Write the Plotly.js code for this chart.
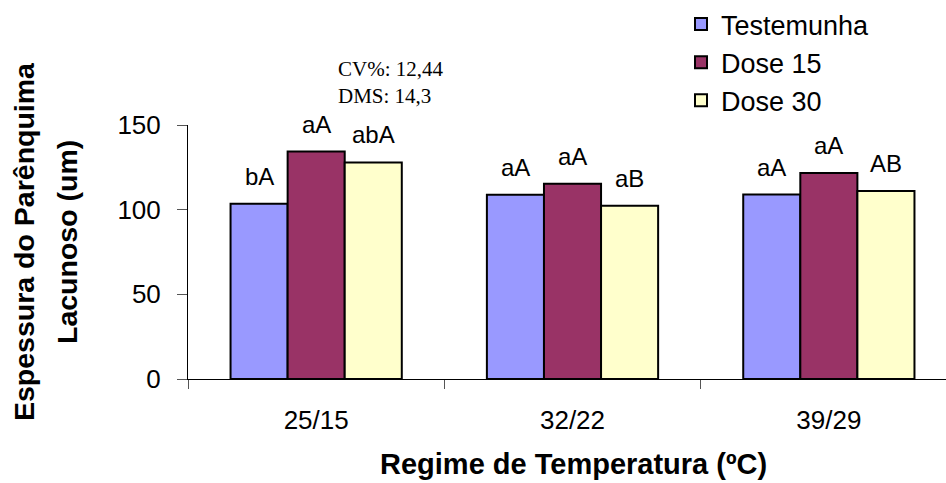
<!DOCTYPE html>
<html>
<head>
<meta charset="utf-8">
<script src="https://cdn.plot.ly/plotly-3.0.1.min.js"></script>
<style>html,body{margin:0;padding:0;background:#fff;}#chart{width:946px;height:483px;}</style>
</head>
<body>
<div id="chart"></div>
<script>
// ---- data ----
const categories = ['25/15', '32/22', '39/29'];
const seriesNames = ['Testemunha', 'Dose 15', 'Dose 30'];
const testemunha = [103.5, 108.8, 108.9];
const dose15 = [134.3, 115.3, 121.6];
const dose30 = [127.9, 102.3, 111.0];
const labelsTestemunha = ['bA', 'aA', 'aA'];
const labelsDose15 = ['aA', 'aA', 'aA'];
const labelsDose30 = ['abA', 'aB', 'AB'];
const yTickValues = [0, 50, 100, 150];
const noteLines = ['CV%: 12,44', 'DMS: 14,3'];
const yTitleLines = ['Espessura do Parênquima', 'Lacunoso (um)'];
const xTitle = 'Regime de Temperatura (ºC)';

// ---- style ----
const colors = ['#9999FF', '#993366', '#FFFFCC'];
const FONT = 'Liberation Sans, Arial, sans-serif';
const W = 946, H = 483;
const margin = {l: 188, r: 0, t: 125, b: 104};
const bargap = 0.332;
const xRange = [-0.5, 2.457];
const yRange = [0, 150];

const allValues = [testemunha, dose15, dose30];
const allLabels = [labelsTestemunha, labelsDose15, labelsDose30];

const traces = allValues.map((vals, i) => ({
  type: 'bar',
  name: seriesNames[i],
  x: categories,
  y: vals,
  marker: {color: colors[i], line: {color: '#000', width: 2}},
  hoverinfo: 'x+y+name'
}));

const plotW = W - margin.l - margin.r;
const plotH = H - margin.t - margin.b;
const pxPerCat = plotW / (xRange[1] - xRange[0]);
const barPx = pxPerCat * (1 - bargap) / allValues.length;

const annotations = [];
allValues.forEach((vals, i) => {
  vals.forEach((v, k) => {
    annotations.push({
      x: categories[k], y: v, xref: 'x', yref: 'y',
      text: allLabels[i][k], showarrow: false,
      xanchor: 'center', yanchor: 'bottom',
      xshift: (i - (allValues.length - 1) / 2) * barPx,
      yshift: 12,
      font: {family: FONT, size: 24, color: '#000'}
    });
  });
});

function px2paperX(px) { return (px - margin.l) / plotW; }
function px2paperY(py) { return (H - margin.b - py) / plotH; }

// note (CV / DMS)
annotations.push({
  xref: 'paper', yref: 'paper', x: px2paperX(336), y: px2paperY(82),
  xanchor: 'left', yanchor: 'middle', align: 'left', showarrow: false,
  text: noteLines.join('<br>'),
  font: {family: 'Liberation Serif, Times New Roman, serif', size: 21, color: '#000'}
});

// y title (two rotated lines)
const yTitleCentersPx = [24, 67];
yTitleLines.forEach((t, i) => {
  annotations.push({
    xref: 'paper', yref: 'paper', x: px2paperX(yTitleCentersPx[i]), y: px2paperY(242),
    xanchor: 'center', yanchor: 'middle', showarrow: false, textangle: -90,
    text: '<b>' + t + '</b>',
    font: {family: FONT, size: 28.5, color: '#000'}
  });
});

// x title
annotations.push({
  xref: 'paper', yref: 'paper', x: px2paperX(573), y: px2paperY(464),
  xanchor: 'center', yanchor: 'middle', showarrow: false, borderpad: 0,
  text: '<b>' + xTitle + '</b>',
  font: {family: FONT, size: 29, color: '#000'}
});

const layout = {
  width: W, height: H,
  margin: margin,
  paper_bgcolor: '#fff', plot_bgcolor: '#fff',
  barmode: 'group', bargap: bargap, bargroupgap: 0,
  showlegend: true,
  legend: {
    x: px2paperX(681), y: px2paperY(0), xanchor: 'left', yanchor: 'top',
    bgcolor: 'rgba(0,0,0,0)', borderwidth: 0,
    font: {family: FONT, size: 27, color: '#000'},
    traceorder: 'normal'
  },
  xaxis: {
    type: 'category', range: xRange,
    showline: true, linecolor: '#000', linewidth: 1,
    showgrid: false, zeroline: false,
    ticks: 'outside', tickson: 'boundaries', ticklen: 9, tickcolor: '#555', tickwidth: 1,
    ticklabelstandoff: 18,
    tickfont: {family: FONT, size: 26, color: '#000'},
    fixedrange: true
  },
  yaxis: {
    range: yRange,
    tickvals: yTickValues, ticktext: yTickValues.map(String),
    showline: true, linecolor: '#000', linewidth: 1,
    showgrid: false, zeroline: false,
    ticks: 'outside', ticklen: 10, tickcolor: '#555', tickwidth: 1,
    ticklabelstandoff: 11,
    tickfont: {family: FONT, size: 26, color: '#000'},
    fixedrange: true
  },
  annotations: annotations
};

Plotly.newPlot('chart', traces, layout, {displayModeBar: false, staticPlot: true});
</script>
</body>
</html>
